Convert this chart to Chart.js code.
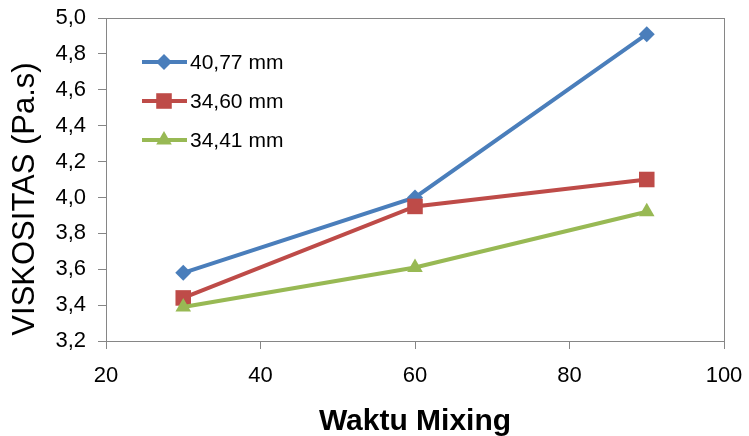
<!DOCTYPE html>
<html>
<head>
<meta charset="utf-8">
<script src="https://cdn.jsdelivr.net/npm/chart.js@4/dist/chart.umd.min.js"></script>
<style>
  html, body { margin: 0; padding: 0; background: #fff; }
  #wrap { width: 749px; height: 436px; }
</style>
</head>
<body>
<div id="wrap"><canvas id="chart" width="749" height="436"></canvas></div>
<script>
// data
var waktu = [30, 60, 90];
var seriesNames = ["40,77 mm", "34,60 mm", "34,41 mm"];
var visk4077 = [3.58, 4.00, 4.91];
var visk3460 = [3.44, 3.95, 4.10];
var visk3441 = [3.39, 3.61, 3.92];
var xTicks = [20, 40, 60, 80, 100];
var yTicks = [3.2, 3.4, 3.6, 3.8, 4.0, 4.2, 4.4, 4.6, 4.8, 5.0];
var yTitle = "VISKOSITAS (Pa.s)";

var colors = ["#4A7EBB", "#BE4B48", "#98B954"];
var markers = ["rectRot", "rect", "triangle"];
var markerSize = [8, 11, 9];
var fontFam = "'Liberation Sans', Arial, sans-serif";

function toPoints(vals) {
    return waktu.map(function (x, i) { return { x: x, y: vals[i] }; });
}

var allVals = [visk4077, visk3460, visk3441];
var datasets = allVals.map(function (vals, i) {
    return {
        label: seriesNames[i],
        data: toPoints(vals),
        order: allVals.length - i, // later series drawn on top, like excel
        borderColor: colors[i],
        backgroundColor: colors[i],
        borderWidth: 4,
        pointStyle: markers[i],
        pointRadius: markerSize[i],
        pointBorderWidth: 0,
        pointBackgroundColor: colors[i],
        tension: 0
    };
});

// frame round the plot area + y title (sits a bit below the axis middle in the original)
var framePlugin = {
    id: "frame",
    beforeDatasetsDraw: function (chart) {
        var a = chart.chartArea, ctx = chart.ctx;
        ctx.save();
        ctx.strokeStyle = "#868686";
        ctx.lineWidth = 1;
        ctx.strokeRect(a.left + 0.5, a.top + 0.5, a.right - a.left, a.bottom - a.top);
        ctx.translate(25, 199);
        ctx.rotate(-Math.PI / 2);
        ctx.fillStyle = "#000";
        ctx.font = "31px " + fontFam;
        ctx.textAlign = "center";
        ctx.textBaseline = "middle";
        ctx.fillText(yTitle, 0, 0);
        ctx.restore();
    }
};

// legend inside the plot, line + marker like the original
var legendPlugin = {
    id: "insideLegend",
    afterDatasetsDraw: function (chart) {
        var ctx = chart.ctx;
        var rows = [62, 101, 140];
        ctx.save();
        chart.data.datasets.forEach(function (ds, i) {
            var y = rows[i];
            ctx.strokeStyle = ds.borderColor;
            ctx.lineWidth = 4;
            ctx.beginPath();
            ctx.moveTo(142, y);
            ctx.lineTo(187, y);
            ctx.stroke();
            ctx.fillStyle = ds.borderColor;
            Chart.helpers.drawPoint(ctx, {
                pointStyle: ds.pointStyle,
                radius: ds.pointRadius,
                rotation: 0,
                borderWidth: 0
            }, 164, y);
            ctx.fillStyle = "#000";
            ctx.font = "21px " + fontFam;
            ctx.textBaseline = "middle";
            ctx.textAlign = "left";
            ctx.fillText(ds.label, 190, y + 1);
        });
        ctx.restore();
    }
};

new Chart(document.getElementById("chart"), {
    type: "line",
    data: { datasets: datasets },
    plugins: [framePlugin, legendPlugin],
    options: {
        responsive: false,
        animation: false,
        layout: { padding: { left: 0, top: 18, right: 25, bottom: 0 } },
        plugins: {
            legend: { display: false },
            tooltip: { enabled: false }
        },
        scales: {
            x: {
                type: "linear",
                min: 20,
                max: 100,
                afterBuildTicks: function (scale) {
                    scale.ticks = xTicks.map(function (v) { return { value: v }; });
                },
                afterFit: function (scale) {
                    scale.height = 95;
                    scale.paddingLeft = 0;
                    scale.paddingRight = 0;
                },
                grid: {
                    drawOnChartArea: false,
                    tickLength: 8,
                    tickColor: "#868686"
                },
                border: { color: "#868686" },
                ticks: {
                    color: "#000",
                    padding: 14,
                    maxRotation: 0,
                    font: { family: fontFam, size: 22 }
                },
                title: {
                    display: true,
                    text: "Waktu Mixing",
                    color: "#000",
                    padding: { top: 8, bottom: 0 },
                    font: { family: fontFam, size: 30, weight: "bold", lineHeight: 0.95 }
                }
            },
            y: {
                min: 3.2,
                max: 5.0,
                afterBuildTicks: function (scale) {
                    scale.ticks = yTicks.map(function (v) { return { value: v }; });
                },
                afterFit: function (scale) {
                    scale.width = 106;
                    scale.paddingTop = 0;
                    scale.paddingBottom = 0;
                },
                grid: {
                    drawOnChartArea: false,
                    tickLength: 8,
                    tickColor: "#868686"
                },
                border: { color: "#868686" },
                ticks: {
                    color: "#000",
                    padding: 12,
                    callback: function (v) { return v.toFixed(1).replace(".", ","); },
                    font: { family: fontFam, size: 22 }
                },
                title: { display: false }
            }
        }
    }
});
</script>
</body>
</html>
